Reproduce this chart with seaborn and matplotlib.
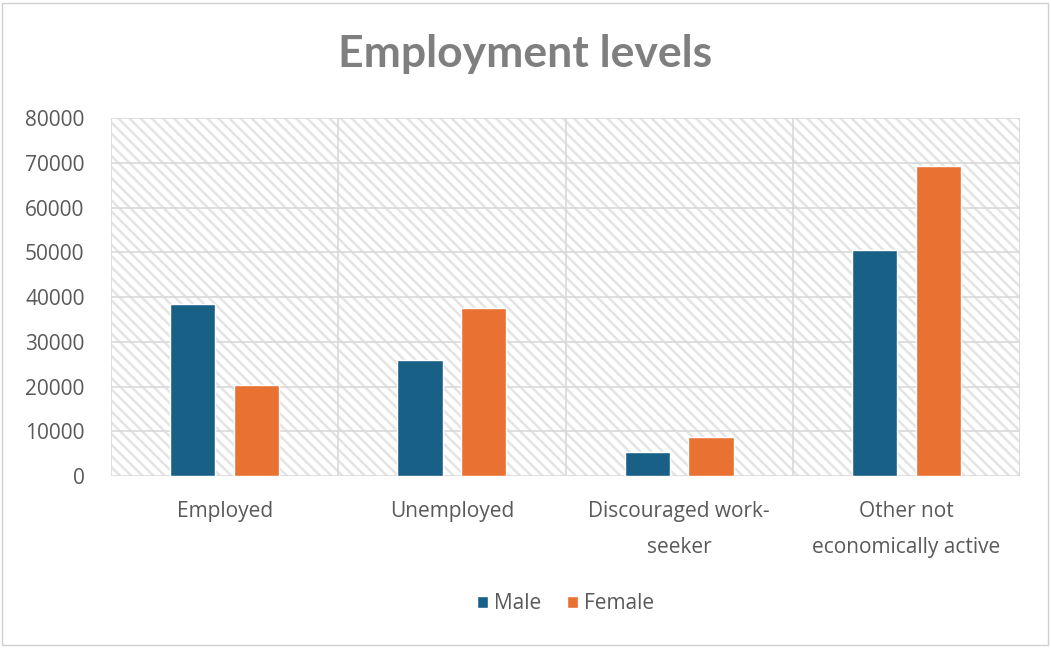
import matplotlib
matplotlib.use("Agg")
import matplotlib.pyplot as plt
import seaborn as sns
import pandas as pd
from matplotlib.patches import Rectangle

categories = ["Employed", "Unemployed", "Discouraged work-\nseeker", "Other not\neconomically active"]
male = [38400, 25900, 5400, 50400]
female = [20300, 37500, 8700, 69300]
series = ["Male", "Female"]
colors = ["#196086", "#E97132"]
yticks = [0, 10000, 20000, 30000, 40000, 50000, 60000, 70000, 80000]

df = pd.DataFrame({
    "category": categories * 2,
    "value": male + female,
    "sex": ["Male"] * len(categories) + ["Female"] * len(categories),
})

sns.set_theme(style="white")
plt.rcParams['font.family'] = ['Open Sans', 'DejaVu Sans']
plt.rcParams['hatch.linewidth'] = 1.8

fig = plt.figure(figsize=(10.51, 6.48), dpi=100)
ax = fig.add_axes([0.1056, 0.2654, 0.865, 0.5525])

# hatched background
bg = Rectangle((0, 0), 1, 1, transform=ax.transAxes, facecolor="white",
               edgecolor="#e4e4e4", hatch="\\\\\\", lw=0, zorder=0)
ax.add_patch(bg)

sns.barplot(data=df, x="category", y="value", hue="sex", hue_order=series,
            palette=colors, width=0.56, gap=0.29, ax=ax, zorder=3,
            saturation=1, legend=True)

ax.set_ylim(0, 80000)
ax.set_xlim(-0.5, len(categories) - 0.5)
ax.set_yticks(yticks)
ax.set_yticklabels([str(v) for v in yticks])
ax.set_xlabel("")
ax.set_ylabel("")

for v in yticks:
    ax.axhline(v, color="#d9d9d9", lw=1.2, zorder=1)
for i in range(len(categories) + 1):
    ax.axvline(i - 0.5, color="#d9d9d9", lw=1.2, zorder=1)

for s in ax.spines.values():
    s.set_visible(False)
ax.tick_params(axis="both", length=0, labelsize=15, colors="#595959")
ax.tick_params(axis="y", pad=19)
ax.tick_params(axis="x", pad=18)
for lbl in ax.get_xticklabels():
    lbl.set_linespacing(1.95)

ax.legend(loc="upper center", bbox_to_anchor=(0.5, -0.275), ncol=2, frameon=False,
          fontsize=15, handlelength=0.55, handleheight=0.55, handletextpad=0.3,
          columnspacing=1.2, labelcolor="#595959")

fig.text(0.5, 0.917, "Employment levels", ha="center", va="center",
         fontsize=32, fontweight="bold", color="#7f7f7f", family=["Lato", "DejaVu Sans"])

# outer border
fig.patches.append(Rectangle((0.002, 0.004), 0.995, 0.992, transform=fig.transFigure,
                             fill=False, edgecolor="#d0d0d0", lw=1))

fig.savefig("out.png", dpi=100)
